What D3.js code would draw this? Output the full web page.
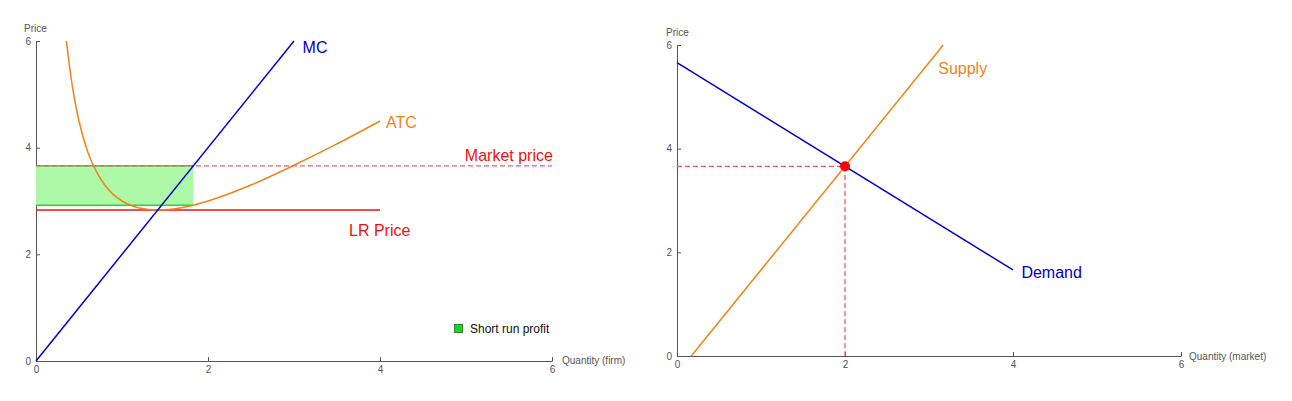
<!DOCTYPE html>
<html>
<head>
<meta charset="utf-8">
<script src="https://cdn.jsdelivr.net/npm/d3@7"></script>
<style>
  body { margin: 0; background: white; }
  text { font-family: "Liberation Sans", Arial, sans-serif; }
  .axis path, .axis line { stroke: #555; }
  .axis text { fill: #555; font-size: 10px; }
</style>
</head>
<body>
<div id="chart"></div>
<script>
// ---- data ----
const xTicks = [0, 2, 4, 6];
const yTicks = [0, 2, 4, 6];

// firm (left)
const mcPoints = [[0, 0], [3, 6]];
const atcPoints = [
  [0.354, 6.0], [0.4, 5.4], [0.45, 4.89], [0.5, 4.5], [0.6, 3.93], [0.7, 3.56],
  [0.8, 3.3], [0.9, 3.12], [1.0, 3.0], [1.1, 2.92], [1.2, 2.87], [1.414, 2.83],
  [1.6, 2.85], [1.8, 2.91], [2.0, 3.0], [2.5, 3.3], [3.0, 3.67], [3.5, 4.07], [4.0, 4.5]
];
const lrPrice = 2.83;
const lrRange = [0, 4];
const marketPrice = 3.66;
const marketRange = [0, 6];
const profitQ = 1.83;     // where MC meets market price
const profitCost = 2.92;  // ATC at that quantity

// market (right)
const demandPoints = [[0, 5.66], [4, 1.66]];
const supplyPoints = [[0.17, 0], [3.17, 6]];
const equilibrium = [2, 3.66];

// ---- layout ----
const width = 1292, height = 401;
const svg = d3.select("#chart").append("svg")
  .attr("width", width)
  .attr("height", height);

const blue = "#0000cc", orange = "#f08418", red = "#ee1111", dashRed = "#f25a6a";

// draw axes for one panel, returns scales
function panel(xr, yr, xLabel, xLabelPos, priceLabelPos) {
  const x = d3.scaleLinear().domain([0, 6]).range(xr);
  const y = d3.scaleLinear().domain([0, 6]).range(yr);

  svg.append("g")
    .attr("class", "axis")
    .attr("transform", `translate(0,${yr[0]})`)
    .call(d3.axisBottom(x).tickValues(xTicks).tickFormat(d3.format("d"))
      .tickSizeInner(-4).tickSizeOuter(0).tickPadding(5));

  svg.append("g")
    .attr("class", "axis")
    .attr("transform", `translate(${xr[0]},0)`)
    .call(d3.axisLeft(y).tickValues(yTicks).tickFormat(d3.format("d"))
      .tickSizeInner(-4).tickSizeOuter(0).tickPadding(5));

  svg.append("text")
    .attr("x", priceLabelPos[0]).attr("y", priceLabelPos[1])
    .attr("font-size", "10px").attr("fill", "#555")
    .text("Price");

  svg.append("text")
    .attr("x", xLabelPos[0]).attr("y", xLabelPos[1])
    .attr("font-size", "10px").attr("fill", "#555")
    .text(xLabel);

  return {x, y};
}

const line = (s) => d3.line().x(d => s.x(d[0])).y(d => s.y(d[1]));

// --------------------
// LEFT: firm
// --------------------
const L = panel([36, 552], [361, 41], "Quantity (firm)", [562, 364], [24, 32]);

// short run profit rectangle
svg.append("rect")
  .attr("x", L.x(0))
  .attr("y", L.y(marketPrice))
  .attr("width", L.x(profitQ) - L.x(0))
  .attr("height", L.y(profitCost) - L.y(marketPrice))
  .attr("fill", "#adf9a8");

svg.append("path")
  .datum([[0, profitCost], [profitQ, profitCost]])
  .attr("d", line(L))
  .attr("stroke", "#22dd22").attr("stroke-width", 1.6).attr("fill", "none");
svg.append("path")
  .datum([[0, marketPrice], [profitQ, marketPrice]])
  .attr("d", line(L))
  .attr("stroke", "#22dd22").attr("stroke-width", 1.6).attr("fill", "none");

// market price (dashed)
svg.append("path")
  .datum(marketRange.map(q => [q, marketPrice]))
  .attr("d", line(L))
  .attr("stroke", dashRed).attr("stroke-width", 1.3)
  .attr("stroke-dasharray", "5,3").attr("fill", "none");

// LR price
svg.append("path")
  .datum(lrRange.map(q => [q, lrPrice]))
  .attr("d", line(L))
  .attr("stroke", red).attr("stroke-width", 1.6).attr("fill", "none");

// ATC
svg.append("path")
  .datum(atcPoints)
  .attr("d", line(L).curve(d3.curveMonotoneX))
  .attr("stroke", orange).attr("stroke-width", 1.5).attr("fill", "none");

// MC
svg.append("path")
  .datum(mcPoints)
  .attr("d", line(L))
  .attr("stroke", blue).attr("stroke-width", 1.5).attr("fill", "none");

// labels
const labelsL = [
  {t: "MC", q: 3.1, p: 5.78, c: blue, a: "start"},
  {t: "ATC", q: 4.07, p: 4.37, c: orange, a: "start"},
  {t: "Market price", q: 6.01, p: 3.75, c: red, a: "end"},
  {t: "LR Price", q: 3.64, p: 2.35, c: red, a: "start"}
];
svg.selectAll(".lblL")
  .data(labelsL)
  .enter()
  .append("text")
  .attr("x", d => L.x(d.q))
  .attr("y", d => L.y(d.p))
  .attr("text-anchor", d => d.a)
  .attr("fill", d => d.c)
  .attr("font-size", "16px")
  .text(d => d.t);

// legend
svg.append("rect")
  .attr("x", 454.5).attr("y", 324.5)
  .attr("width", 8).attr("height", 8)
  .attr("fill", "#11dd11").attr("stroke", "#226622").attr("stroke-width", 0.8);
svg.append("text")
  .attr("x", 470).attr("y", 333)
  .attr("font-size", "12px").attr("fill", "#111")
  .text("Short run profit");

// --------------------
// RIGHT: market
// --------------------
const R = panel([677, 1181], [356, 45], "Quantity (market)", [1189, 360], [666, 36]);

// guide lines to equilibrium
svg.append("path")
  .datum([[0, equilibrium[1]], equilibrium])
  .attr("d", line(R))
  .attr("stroke", dashRed).attr("stroke-width", 1.3)
  .attr("stroke-dasharray", "5,3").attr("fill", "none");
svg.append("path")
  .datum([[equilibrium[0], 0], equilibrium])
  .attr("d", line(R))
  .attr("stroke", dashRed).attr("stroke-width", 1.3)
  .attr("stroke-dasharray", "5,3").attr("fill", "none");

// supply
svg.append("path")
  .datum(supplyPoints)
  .attr("d", line(R))
  .attr("stroke", orange).attr("stroke-width", 1.5).attr("fill", "none");

// demand
svg.append("path")
  .datum(demandPoints)
  .attr("d", line(R))
  .attr("stroke", blue).attr("stroke-width", 1.5).attr("fill", "none");

// equilibrium point
svg.append("circle")
  .attr("cx", R.x(equilibrium[0]))
  .attr("cy", R.y(equilibrium[1]))
  .attr("r", 5)
  .attr("fill", "#ff0000");

const labelsR = [
  {t: "Supply", q: 3.11, p: 5.44, c: orange},
  {t: "Demand", q: 4.1, p: 1.5, c: blue}
];
svg.selectAll(".lblR")
  .data(labelsR)
  .enter()
  .append("text")
  .attr("x", d => R.x(d.q))
  .attr("y", d => R.y(d.p))
  .attr("fill", d => d.c)
  .attr("font-size", "16px")
  .text(d => d.t);
</script>
</body>
</html>
